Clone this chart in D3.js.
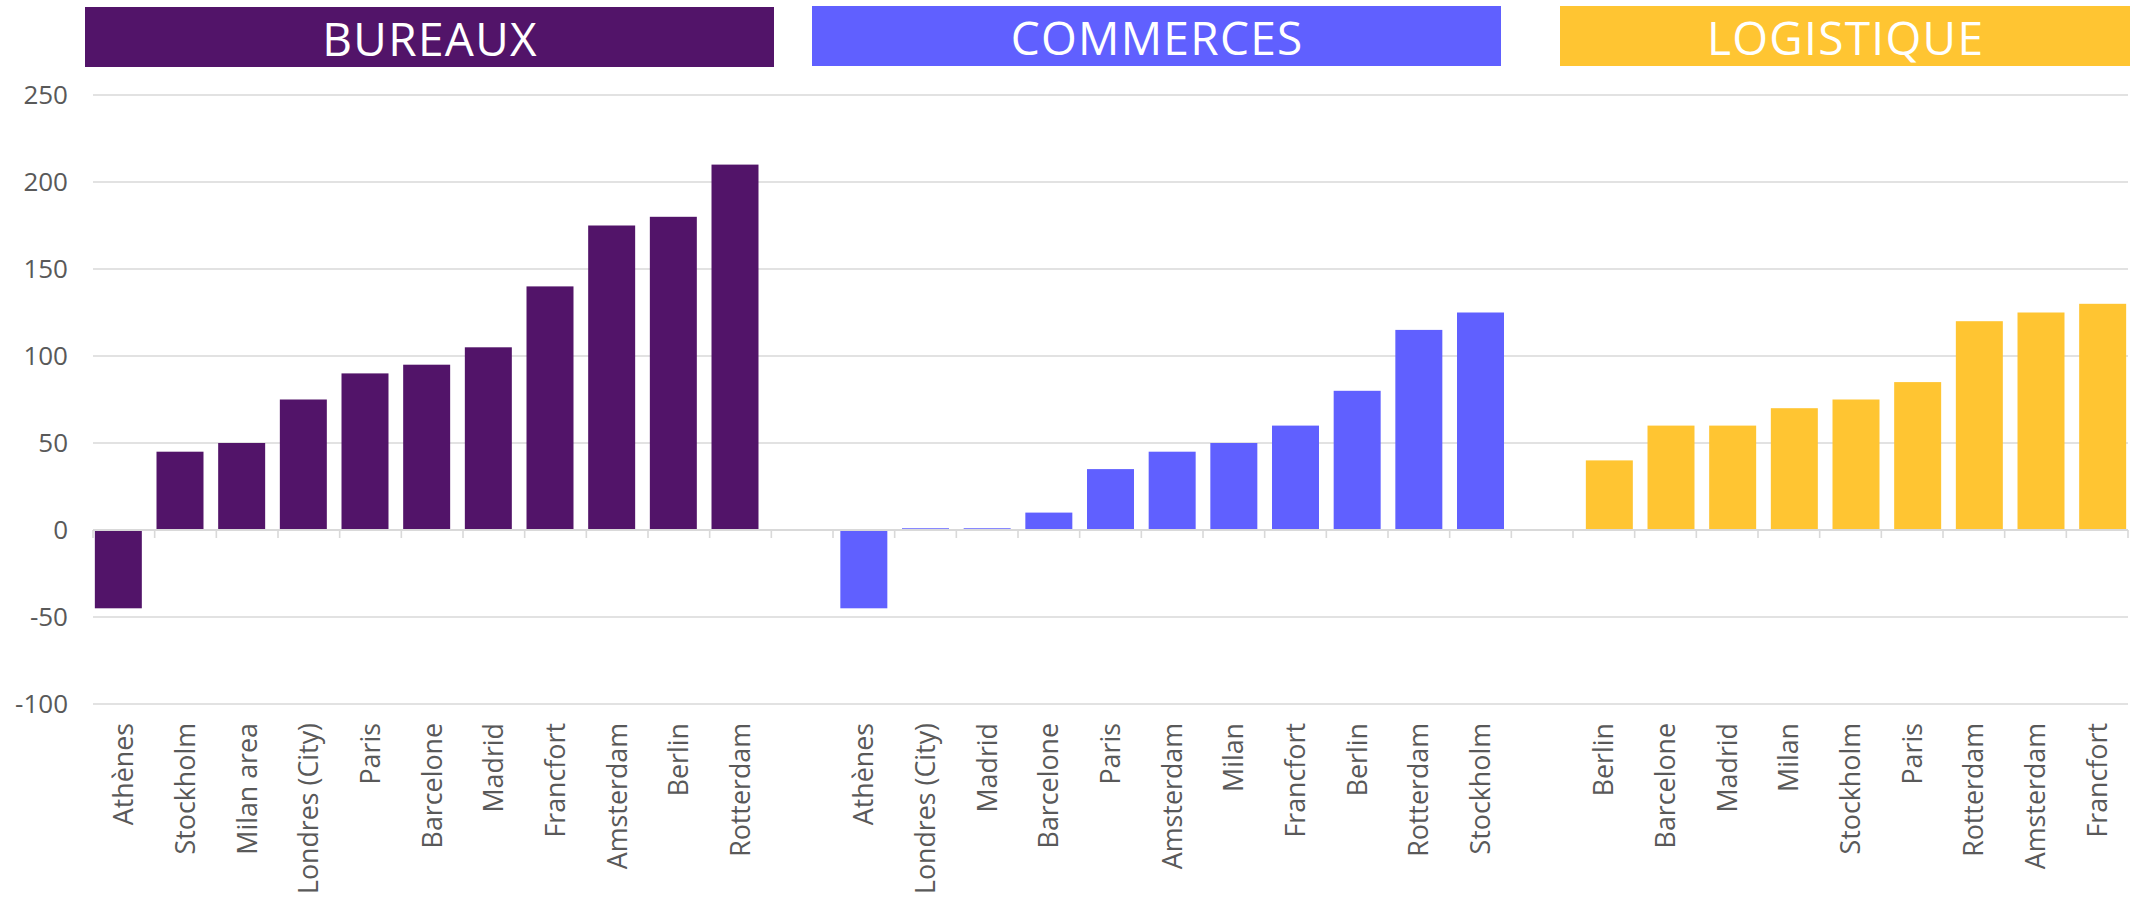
<!DOCTYPE html>
<html>
<head>
<meta charset="utf-8">
<script src="https://cdn.jsdelivr.net/npm/d3@7"></script>
<style>
  html, body { margin: 0; padding: 0; background: #ffffff; }
  svg { display: block; }
  text { font-family: "Open Sans", "Noto Sans", sans-serif; }
</style>
</head>
<body>
<svg id="chart" width="2130" height="897"></svg>
<script>
// ---- Data ----
const groupNames = ["BUREAUX", "COMMERCES", "LOGISTIQUE"];
const groupColors = ["#521469", "#6060ff", "#ffc532"];

const bureauxCities = ["Athènes", "Stockholm", "Milan area", "Londres (City)", "Paris", "Barcelone", "Madrid", "Francfort", "Amsterdam", "Berlin", "Rotterdam"];
const bureauxValues = [-45, 45, 50, 75, 90, 95, 105, 140, 175, 180, 210];

const commercesCities = ["Athènes", "Londres (City)", "Madrid", "Barcelone", "Paris", "Amsterdam", "Milan", "Francfort", "Berlin", "Rotterdam", "Stockholm"];
const commercesValues = [-45, 1, 1, 10, 35, 45, 50, 60, 80, 115, 125];

const logistiqueCities = ["Berlin", "Barcelone", "Madrid", "Milan", "Stockholm", "Paris", "Rotterdam", "Amsterdam", "Francfort"];
const logistiqueValues = [40, 60, 60, 70, 75, 85, 120, 125, 130];

const yTickValues = [-100, -50, 0, 50, 100, 150, 200, 250];

// ---- Build slots (categories with an empty slot between groups) ----
const groupCities = [bureauxCities, commercesCities, logistiqueCities];
const groupValues = [bureauxValues, commercesValues, logistiqueValues];
const slots = [];
groupCities.forEach((cities, g) => {
  cities.forEach((c, i) => slots.push({ label: c, value: groupValues[g][i], group: g }));
  if (g < groupCities.length - 1) slots.push({ label: "", value: null, group: null });
});

// ---- Layout ----
const W = 2130, H = 897;
const plot = { left: 93, right: 2128, top: 95, bottom: 704 };
const banners = [
  { x0: 85, x1: 774, y0: 7 },
  { x0: 812, x1: 1501, y0: 6 },
  { x0: 1560, x1: 2130, y0: 6 }
];
const bannerH = 60;
const gridColor = "#d9d9d9";
const textColor = "#595959";

const svg = d3.select("#chart");

const x = d3.scaleBand()
  .domain(d3.range(slots.length))
  .range([plot.left, plot.right])
  .padding(0);

const y = d3.scaleLinear()
  .domain([-100, 250])
  .range([plot.bottom, plot.top]);

// series offset within a slot (clustered with heavy overlap)
const seriesOffset = d3.scalePoint().domain([0, 1, 2]).range([-5.5, 5.5]);
const barW = x.bandwidth() * 0.762;

// gridlines
svg.append("g").selectAll("line")
  .data(yTickValues)
  .join("line")
  .attr("x1", plot.left)
  .attr("x2", plot.right)
  .attr("y1", d => y(d))
  .attr("y2", d => y(d))
  .attr("stroke", gridColor)
  .attr("stroke-width", 1.6);

// y labels
svg.append("g").selectAll("text")
  .data(yTickValues)
  .join("text")
  .attr("x", 68)
  .attr("y", d => y(d))
  .attr("dy", "0.35em")
  .attr("text-anchor", "end")
  .attr("font-size", 26)
  .attr("fill", textColor)
  .text(d => d);

// bars
svg.append("g").selectAll("rect")
  .data(slots.filter(s => s.value !== null))
  .join("rect")
  .attr("x", d => x(slots.indexOf(d)) + x.bandwidth() / 2 + seriesOffset(d.group) - barW / 2)
  .attr("width", barW)
  .attr("y", d => y(Math.max(0, d.value)))
  .attr("height", d => Math.abs(y(d.value) - y(0)))
  .attr("fill", d => groupColors[d.group]);

// zero axis line
svg.append("line")
  .attr("x1", plot.left)
  .attr("x2", plot.right)
  .attr("y1", y(0))
  .attr("y2", y(0))
  .attr("stroke", gridColor)
  .attr("stroke-width", 2);

// tick marks at slot boundaries
const boundaries = d3.range(slots.length).map(i => x(i)).concat([plot.right]);
svg.append("g").selectAll("line")
  .data(boundaries)
  .join("line")
  .attr("x1", d => d)
  .attr("x2", d => d)
  .attr("y1", y(0))
  .attr("y2", y(0) + 8)
  .attr("stroke", gridColor)
  .attr("stroke-width", 1.6);

// category labels
svg.append("g").selectAll("text")
  .data(slots)
  .join("text")
  .attr("transform", (d, i) => `translate(${x(i) + x.bandwidth() / 2},${plot.bottom + 19}) rotate(-90)`)
  .attr("dy", "0.36em")
  .attr("text-anchor", "end")
  .attr("font-size", 26.8)
  .attr("fill", textColor)
  .text(d => d.label);

// group banners
const bg = svg.append("g").selectAll("g")
  .data(groupNames)
  .join("g");
bg.append("rect")
  .attr("x", (d, i) => banners[i].x0)
  .attr("y", (d, i) => banners[i].y0)
  .attr("width", (d, i) => banners[i].x1 - banners[i].x0)
  .attr("height", bannerH)
  .attr("fill", (d, i) => groupColors[i]);
bg.append("text")
  .attr("x", (d, i) => (banners[i].x0 + banners[i].x1) / 2 + 0.6)
  .attr("y", (d, i) => banners[i].y0 + 49)
  .attr("text-anchor", "middle")
  .attr("font-size", 46)
  .attr("letter-spacing", 1.3)
  .attr("fill", "#ffffff")
  .text(d => d);
</script>
</body>
</html>
